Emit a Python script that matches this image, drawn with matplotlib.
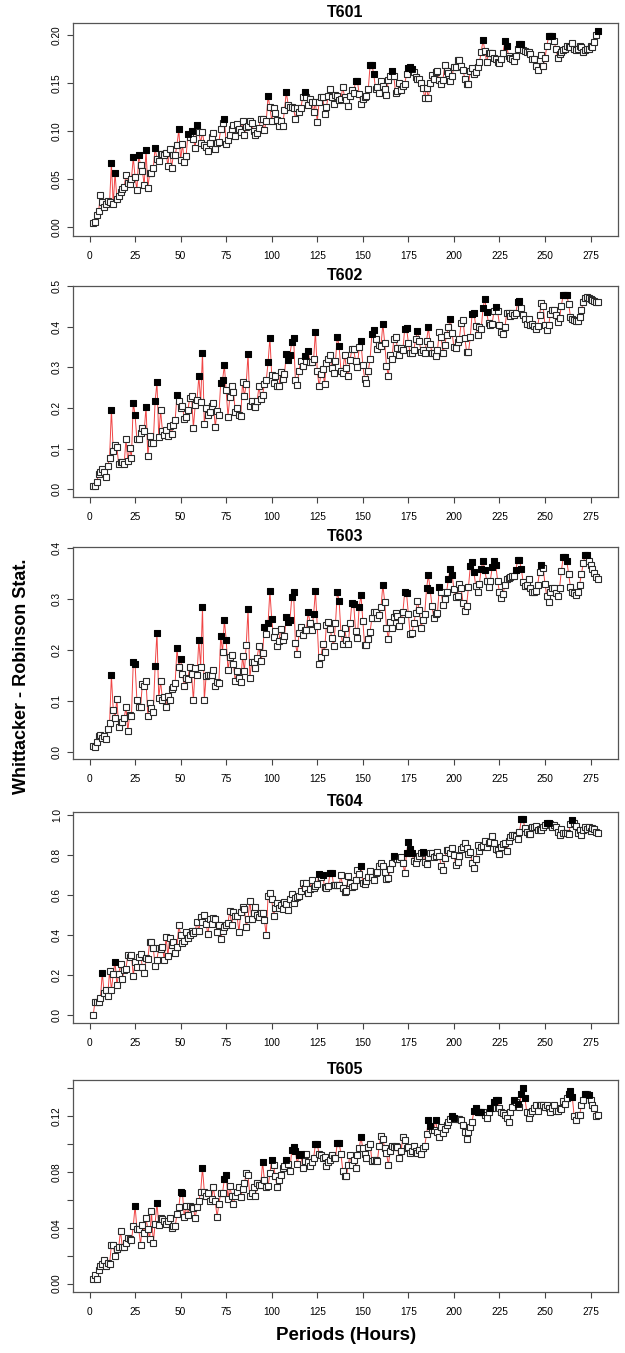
#!/usr/bin/env python

'''
plot.py: Whittacker - Robinson periodogram for stations T601 - T605
'''

import numpy as np
import matplotlib
matplotlib.use('Agg')
import matplotlib.pyplot as plt

# periods in hours, one value per integer period
periods = np.arange(2, 280)

t601 = [0.005, 0.006, 0.013, 0.017, 0.034, 0.026, 0.021, 0.024, 0.027, 0.026,
        0.067, 0.024, 0.057, 0.030, 0.033, 0.037, 0.040, 0.042, 0.055, 0.046,
        0.045, 0.050, 0.073, 0.052, 0.039, 0.075, 0.065, 0.059, 0.044, 0.081,
        0.041, 0.057, 0.057, 0.062, 0.083, 0.071, 0.069, 0.076, 0.076, 0.075,
        0.078, 0.064, 0.082, 0.062, 0.075, 0.075, 0.086, 0.102, 0.070, 0.087,
        0.068, 0.074, 0.097, 0.094, 0.100, 0.092, 0.083, 0.107, 0.099, 0.088,
        0.099, 0.086, 0.084, 0.080, 0.088, 0.094, 0.098, 0.082, 0.088, 0.089,
        0.102, 0.109, 0.113, 0.087, 0.091, 0.096, 0.103, 0.107, 0.095, 0.108,
        0.102, 0.099, 0.111, 0.096, 0.105, 0.106, 0.111, 0.109, 0.100, 0.096,
        0.098, 0.104, 0.113, 0.113, 0.101, 0.111, 0.137, 0.125, 0.111, 0.124,
        0.119, 0.112, 0.106, 0.111, 0.106, 0.122, 0.141, 0.128, 0.125, 0.125,
        0.124, 0.113, 0.124, 0.120, 0.124, 0.136, 0.141, 0.136, 0.128, 0.134,
        0.131, 0.120, 0.131, 0.110, 0.131, 0.136, 0.136, 0.118, 0.125, 0.137,
        0.144, 0.136, 0.129, 0.138, 0.137, 0.133, 0.134, 0.146, 0.136, 0.133,
        0.127, 0.137, 0.143, 0.140, 0.153, 0.153, 0.139, 0.129, 0.134, 0.136,
        0.137, 0.144, 0.169, 0.169, 0.160, 0.144, 0.146, 0.140, 0.153, 0.147,
        0.144, 0.138, 0.154, 0.158, 0.163, 0.158, 0.140, 0.142, 0.150, 0.143,
        0.147, 0.149, 0.160, 0.166, 0.167, 0.165, 0.162, 0.157, 0.155, 0.155,
        0.150, 0.145, 0.135, 0.145, 0.135, 0.150, 0.159, 0.155, 0.162, 0.163,
        0.154, 0.149, 0.154, 0.169, 0.163, 0.161, 0.153, 0.158, 0.167, 0.167,
        0.174, 0.174, 0.168, 0.164, 0.155, 0.149, 0.149, 0.163, 0.166, 0.160,
        0.162, 0.167, 0.172, 0.183, 0.195, 0.184, 0.172, 0.182, 0.182, 0.182,
        0.177, 0.175, 0.172, 0.171, 0.175, 0.182, 0.194, 0.189, 0.179, 0.177,
        0.175, 0.173, 0.179, 0.186, 0.191, 0.191, 0.185, 0.184, 0.183, 0.183,
        0.181, 0.175, 0.175, 0.168, 0.164, 0.174, 0.180, 0.168, 0.176, 0.189,
        0.199, 0.199, 0.199, 0.194, 0.186, 0.177, 0.181, 0.183, 0.185, 0.186,
        0.189, 0.188, 0.188, 0.192, 0.186, 0.185, 0.186, 0.189, 0.188, 0.183,
        0.185, 0.186, 0.186, 0.189, 0.188, 0.193, 0.201, 0.205]
t601_peaks = [12, 14, 24, 27, 31, 36, 49, 54, 56, 59, 74, 98, 108, 118, 146, 147,
              154, 155, 156, 166, 175, 176, 177, 216, 228, 229, 236, 237, 252,
              253, 254, 279]

t602 = [0.008, 0.008, 0.019, 0.037, 0.042, 0.051, 0.043, 0.029, 0.057, 0.078,
        0.196, 0.095, 0.109, 0.104, 0.061, 0.068, 0.066, 0.062, 0.123, 0.069,
        0.101, 0.078, 0.213, 0.182, 0.123, 0.123, 0.139, 0.150, 0.143, 0.203,
        0.081, 0.130, 0.113, 0.115, 0.217, 0.263, 0.128, 0.194, 0.144, 0.133,
        0.145, 0.131, 0.156, 0.137, 0.158, 0.170, 0.233, 0.216, 0.200, 0.204,
        0.174, 0.178, 0.195, 0.225, 0.229, 0.151, 0.207, 0.219, 0.278, 0.215,
        0.336, 0.161, 0.199, 0.182, 0.191, 0.204, 0.213, 0.152, 0.193, 0.182,
        0.262, 0.268, 0.305, 0.243, 0.179, 0.227, 0.255, 0.240, 0.190, 0.201,
        0.182, 0.181, 0.264, 0.229, 0.259, 0.333, 0.206, 0.217, 0.204, 0.203,
        0.217, 0.253, 0.223, 0.233, 0.258, 0.268, 0.312, 0.373, 0.280, 0.261,
        0.278, 0.254, 0.255, 0.289, 0.271, 0.284, 0.332, 0.319, 0.330, 0.363,
        0.373, 0.268, 0.257, 0.292, 0.315, 0.303, 0.327, 0.316, 0.339, 0.313,
        0.314, 0.320, 0.388, 0.292, 0.253, 0.283, 0.296, 0.258, 0.310, 0.321,
        0.330, 0.298, 0.285, 0.316, 0.375, 0.352, 0.292, 0.287, 0.331, 0.298,
        0.278, 0.319, 0.344, 0.344, 0.315, 0.300, 0.349, 0.364, 0.305, 0.272,
        0.262, 0.290, 0.321, 0.383, 0.391, 0.370, 0.346, 0.355, 0.353, 0.407,
        0.361, 0.303, 0.279, 0.331, 0.321, 0.369, 0.375, 0.348, 0.330, 0.348,
        0.342, 0.395, 0.397, 0.361, 0.334, 0.334, 0.343, 0.369, 0.389, 0.364,
        0.338, 0.342, 0.335, 0.365, 0.398, 0.357, 0.336, 0.334, 0.329, 0.343,
        0.387, 0.374, 0.334, 0.356, 0.379, 0.398, 0.419, 0.384, 0.350, 0.348,
        0.362, 0.370, 0.410, 0.417, 0.372, 0.338, 0.338, 0.374, 0.432, 0.434,
        0.402, 0.379, 0.398, 0.395, 0.446, 0.469, 0.435, 0.410, 0.405, 0.407,
        0.438, 0.449, 0.438, 0.405, 0.387, 0.381, 0.398, 0.433, 0.434, 0.426,
        0.433, 0.428, 0.434, 0.460, 0.464, 0.447, 0.429, 0.418, 0.407, 0.419,
        0.405, 0.407, 0.401, 0.395, 0.402, 0.429, 0.458, 0.451, 0.403, 0.391,
        0.403, 0.432, 0.441, 0.442, 0.428, 0.411, 0.421, 0.452, 0.478, 0.479,
        0.477, 0.456, 0.424, 0.419, 0.417, 0.415, 0.413, 0.424, 0.442, 0.460,
        0.471, 0.472, 0.471, 0.469, 0.465, 0.462, 0.460, 0.460]
t602_peaks = [12, 24, 25, 31, 36, 37, 48, 60, 62, 72, 73, 74, 87, 98, 99, 108,
              109, 110, 111, 112, 118, 120, 124, 136, 137, 149, 155, 156, 161,
              173, 174, 180, 186, 198, 210, 211, 216, 217, 218, 223, 235, 236,
              260, 261, 262]

t603 = [0.012, 0.010, 0.020, 0.032, 0.033, 0.028, 0.032, 0.025, 0.045, 0.056,
        0.150, 0.083, 0.066, 0.104, 0.048, 0.058, 0.058, 0.066, 0.088, 0.041,
        0.072, 0.070, 0.176, 0.172, 0.101, 0.088, 0.088, 0.133, 0.130, 0.139,
        0.071, 0.095, 0.086, 0.078, 0.168, 0.234, 0.105, 0.139, 0.102, 0.107,
        0.088, 0.110, 0.102, 0.123, 0.128, 0.136, 0.203, 0.166, 0.183, 0.153,
        0.130, 0.145, 0.143, 0.166, 0.153, 0.101, 0.165, 0.151, 0.220, 0.166,
        0.284, 0.101, 0.149, 0.151, 0.151, 0.150, 0.160, 0.130, 0.138, 0.136,
        0.228, 0.196, 0.259, 0.220, 0.161, 0.186, 0.191, 0.172, 0.139, 0.159,
        0.145, 0.138, 0.188, 0.158, 0.209, 0.280, 0.145, 0.176, 0.176, 0.164,
        0.185, 0.208, 0.178, 0.194, 0.245, 0.232, 0.252, 0.316, 0.260, 0.226,
        0.238, 0.207, 0.218, 0.242, 0.220, 0.227, 0.265, 0.254, 0.258, 0.303,
        0.313, 0.213, 0.193, 0.234, 0.245, 0.230, 0.240, 0.240, 0.274, 0.253,
        0.239, 0.270, 0.316, 0.247, 0.173, 0.186, 0.211, 0.196, 0.249, 0.254,
        0.241, 0.224, 0.207, 0.252, 0.313, 0.297, 0.233, 0.211, 0.243, 0.220,
        0.211, 0.252, 0.293, 0.290, 0.238, 0.224, 0.285, 0.307, 0.257, 0.209,
        0.209, 0.222, 0.236, 0.263, 0.275, 0.275, 0.263, 0.268, 0.284, 0.328,
        0.295, 0.244, 0.222, 0.254, 0.243, 0.265, 0.273, 0.266, 0.247, 0.258,
        0.274, 0.314, 0.311, 0.270, 0.231, 0.233, 0.253, 0.272, 0.297, 0.278,
        0.244, 0.259, 0.271, 0.321, 0.347, 0.317, 0.286, 0.263, 0.270, 0.273,
        0.323, 0.313, 0.289, 0.300, 0.313, 0.340, 0.358, 0.347, 0.320, 0.303,
        0.306, 0.329, 0.321, 0.292, 0.276, 0.287, 0.324, 0.364, 0.372, 0.352,
        0.326, 0.314, 0.330, 0.359, 0.374, 0.356, 0.336, 0.323, 0.336, 0.362,
        0.375, 0.366, 0.336, 0.313, 0.301, 0.309, 0.328, 0.339, 0.341, 0.343,
        0.346, 0.345, 0.357, 0.376, 0.376, 0.359, 0.334, 0.326, 0.328, 0.339,
        0.322, 0.314, 0.314, 0.316, 0.328, 0.353, 0.367, 0.361, 0.330, 0.305,
        0.295, 0.313, 0.321, 0.321, 0.311, 0.306, 0.322, 0.355, 0.382, 0.382,
        0.374, 0.349, 0.323, 0.314, 0.311, 0.308, 0.313, 0.328, 0.349, 0.370,
        0.386, 0.387, 0.375, 0.366, 0.359, 0.351, 0.344, 0.339]
t603_peaks = [12, 24, 25, 36, 37, 48, 50, 60, 62, 72, 74, 75, 87, 96, 98, 99,
              100, 108, 109, 110, 111, 112, 120, 123, 124, 136, 137, 144, 145,
              148, 149, 161, 173, 174, 185, 186, 187, 192, 197, 198, 199, 209,
              210, 211, 215, 216, 217, 221, 222, 223, 234, 235, 236, 237, 248,
              260, 261, 262, 272, 273]

t604 = [0.000, 0.068, 0.068, 0.068, 0.087, 0.213, 0.110, 0.125, 0.098, 0.223,
        0.125, 0.208, 0.268, 0.152, 0.207, 0.255, 0.180, 0.228, 0.232, 0.300,
        0.293, 0.300, 0.197, 0.268, 0.240, 0.293, 0.308, 0.240, 0.210, 0.285,
        0.283, 0.365, 0.367, 0.335, 0.247, 0.278, 0.338, 0.333, 0.343, 0.277,
        0.393, 0.297, 0.388, 0.350, 0.367, 0.310, 0.342, 0.450, 0.402, 0.362,
        0.370, 0.418, 0.388, 0.402, 0.423, 0.410, 0.422, 0.468, 0.422, 0.492,
        0.465, 0.502, 0.455, 0.405, 0.483, 0.457, 0.487, 0.483, 0.417, 0.450,
        0.382, 0.420, 0.443, 0.450, 0.463, 0.523, 0.452, 0.515, 0.498, 0.495,
        0.417, 0.517, 0.540, 0.532, 0.440, 0.482, 0.572, 0.482, 0.510, 0.543,
        0.502, 0.493, 0.510, 0.510, 0.475, 0.400, 0.597, 0.612, 0.580, 0.498,
        0.535, 0.563, 0.537, 0.552, 0.532, 0.565, 0.555, 0.525, 0.583, 0.608,
        0.562, 0.585, 0.593, 0.597, 0.623, 0.660, 0.635, 0.663, 0.610, 0.632,
        0.678, 0.635, 0.647, 0.657, 0.707, 0.690, 0.703, 0.640, 0.635, 0.645,
        0.712, 0.712, 0.650, 0.652, 0.652, 0.652, 0.700, 0.635, 0.618, 0.623,
        0.697, 0.660, 0.640, 0.647, 0.677, 0.727, 0.707, 0.747, 0.663, 0.657,
        0.673, 0.693, 0.722, 0.693, 0.677, 0.713, 0.718, 0.747, 0.763, 0.748,
        0.718, 0.682, 0.685, 0.732, 0.760, 0.797, 0.785, 0.780, 0.780, 0.790,
        0.760, 0.713, 0.810, 0.868, 0.832, 0.812, 0.773, 0.763, 0.785, 0.797,
        0.813, 0.818, 0.768, 0.757, 0.790, 0.813, 0.810, 0.790, 0.797, 0.815,
        0.797, 0.747, 0.727, 0.788, 0.827, 0.827, 0.810, 0.838, 0.802, 0.752,
        0.768, 0.797, 0.832, 0.840, 0.863, 0.838, 0.805, 0.815, 0.763, 0.735,
        0.780, 0.852, 0.823, 0.840, 0.848, 0.873, 0.843, 0.863, 0.868, 0.897,
        0.863, 0.830, 0.827, 0.807, 0.840, 0.855, 0.860, 0.823, 0.873, 0.890,
        0.902, 0.902, 0.897, 0.880, 0.918, 0.980, 0.980, 0.935, 0.918, 0.907,
        0.907, 0.943, 0.940, 0.947, 0.927, 0.933, 0.927, 0.943, 0.952, 0.960,
        0.960, 0.957, 0.943, 0.952, 0.940, 0.918, 0.902, 0.930, 0.910, 0.913,
        0.910, 0.905, 0.957, 0.977, 0.963, 0.947, 0.910, 0.927, 0.902, 0.927,
        0.940, 0.930, 0.940, 0.923, 0.935, 0.930, 0.918, 0.913]
t604_peaks = [7, 14, 126, 128, 132, 133, 149, 167, 174, 175, 176, 177, 183,
              237, 238, 251, 252, 265]

t605 = [0.003, 0.006, 0.003, 0.010, 0.013, 0.014, 0.017, 0.013, 0.015, 0.014,
        0.028, 0.028, 0.020, 0.025, 0.026, 0.038, 0.026, 0.026, 0.029, 0.033,
        0.032, 0.031, 0.041, 0.056, 0.039, 0.039, 0.028, 0.042, 0.036, 0.047,
        0.039, 0.032, 0.052, 0.029, 0.043, 0.058, 0.042, 0.047, 0.046, 0.045,
        0.043, 0.045, 0.047, 0.040, 0.041, 0.041, 0.050, 0.055, 0.066, 0.065,
        0.048, 0.056, 0.049, 0.056, 0.055, 0.054, 0.047, 0.055, 0.059, 0.066,
        0.083, 0.066, 0.063, 0.065, 0.059, 0.061, 0.069, 0.059, 0.048, 0.057,
        0.065, 0.065, 0.075, 0.078, 0.061, 0.070, 0.063, 0.057, 0.063, 0.066,
        0.069, 0.062, 0.068, 0.072, 0.079, 0.078, 0.063, 0.065, 0.069, 0.063,
        0.072, 0.071, 0.071, 0.087, 0.074, 0.069, 0.070, 0.079, 0.089, 0.085,
        0.077, 0.069, 0.074, 0.078, 0.083, 0.084, 0.089, 0.086, 0.081, 0.096,
        0.098, 0.095, 0.086, 0.092, 0.093, 0.083, 0.088, 0.093, 0.087, 0.084,
        0.087, 0.090, 0.100, 0.100, 0.093, 0.092, 0.090, 0.091, 0.084, 0.087,
        0.089, 0.092, 0.090, 0.090, 0.101, 0.101, 0.093, 0.081, 0.077, 0.077,
        0.085, 0.092, 0.085, 0.089, 0.083, 0.092, 0.097, 0.105, 0.097, 0.093,
        0.090, 0.098, 0.100, 0.088, 0.089, 0.089, 0.088, 0.099, 0.106, 0.104,
        0.097, 0.094, 0.085, 0.095, 0.099, 0.098, 0.099, 0.098, 0.090, 0.095,
        0.105, 0.103, 0.097, 0.098, 0.094, 0.095, 0.099, 0.095, 0.094, 0.096,
        0.093, 0.097, 0.099, 0.107, 0.117, 0.113, 0.110, 0.110, 0.117, 0.109,
        0.105, 0.112, 0.108, 0.111, 0.114, 0.116, 0.118, 0.120, 0.119, 0.118,
        0.118, 0.118, 0.117, 0.114, 0.109, 0.104, 0.109, 0.112, 0.116, 0.124,
        0.126, 0.123, 0.123, 0.123, 0.123, 0.121, 0.119, 0.123, 0.126, 0.126,
        0.130, 0.132, 0.132, 0.126, 0.123, 0.122, 0.121, 0.119, 0.116, 0.123,
        0.127, 0.132, 0.130, 0.129, 0.127, 0.136, 0.140, 0.133, 0.123, 0.119,
        0.122, 0.124, 0.126, 0.128, 0.124, 0.128, 0.128, 0.128, 0.127, 0.128,
        0.126, 0.123, 0.126, 0.128, 0.124, 0.124, 0.126, 0.125, 0.131, 0.129,
        0.133, 0.136, 0.138, 0.134, 0.120, 0.117, 0.121, 0.121, 0.128, 0.132,
        0.136, 0.136, 0.135, 0.132, 0.128, 0.126, 0.120, 0.121]
t605_peaks = [25, 37, 50, 51, 62, 74, 75, 95, 100, 108, 111, 112, 113, 115, 116,
              124, 125, 136, 137, 149, 186, 187, 190, 199, 200, 211, 212, 213,
              214, 215, 220, 222, 223, 224, 233, 235, 237, 238, 239, 263, 264,
              265, 272, 274]

stations = ["T601", "T602", "T603", "T604", "T605"]
xticks = np.arange(0, 276, 25)


def draw_panel(ax, title, values, peaks, ylims, yticks, ylabels):

    values = np.asarray(values)
    x = periods[:len(values)]

    # red line under the points, open squares, then the significant ones in black
    ax.plot(x, values, '-', color='#f04545', lw=0.7, zorder=1)
    ax.plot(x, values, 's', ms=3.7, mfc='white', mec='#2a2a2a', mew=0.8, zorder=2)
    sig = np.isin(x, peaks)
    ax.plot(x[sig], values[sig], 's', ms=3.7, mfc='black', mec='black', mew=0.6, zorder=3)

    ax.set_xlim(-9.08, 290.08)
    ax.set_ylim(ylims)
    ax.set_xticks(xticks)
    ax.set_yticks(yticks)
    ax.set_yticklabels(ylabels, rotation=90, va='center')
    ax.tick_params(direction='out', length=4, width=0.8, color='#444444',
                   labelsize=7.3, pad=6.5)
    ax.tick_params(axis='y', pad=4)
    for s in ax.spines.values():
        s.set_color('#555555')
        s.set_linewidth(0.9)

    ax.set_title(title, fontsize=11.5, fontweight='bold', pad=4)


plt.rcParams['font.family'] = ['Liberation Sans', 'DejaVu Sans']

W, H = 625, 1353
fig = plt.figure(figsize=(W / 100, H / 100), dpi=100)

# pixel boxes (top, bottom) of each panel
boxes = [(23, 236), (286, 497), (547, 759), (812, 1023), (1080, 1292)]
left, right = 73, 618

ylim_list = [(-0.009, 0.213), (-0.019, 0.499), (-0.014, 0.402), (-0.039, 1.017), (-0.006, 0.146)]
ytick_list = [np.arange(0, 0.201, 0.05), np.arange(0, 0.51, 0.1), np.arange(0, 0.41, 0.1),
              np.arange(0, 1.01, 0.2), np.arange(0, 0.141, 0.02)]
ylabel_list = [["0.00", "0.05", "0.10", "0.15", "0.20"],
               ["0.0", "0.1", "0.2", "0.3", "0.4", "0.5"],
               ["0.0", "0.1", "0.2", "0.3", "0.4"],
               ["0.0", "0.2", "0.4", "0.6", "0.8", "1.0"],
               ["0.00", "", "0.04", "", "0.08", "", "0.12", ""]]

series = [t601, t602, t603, t604, t605]
peak_sets = [t601_peaks, t602_peaks, t603_peaks, t604_peaks, t605_peaks]

for i, (top, bottom) in enumerate(boxes):
    ax = fig.add_axes([left / W, 1 - bottom / H, (right - left) / W, (bottom - top) / H])
    draw_panel(ax, stations[i], series[i], peak_sets[i],
               ylim_list[i], ytick_list[i], ylabel_list[i])

fig.text(22 / W, 1 - 676 / H, "Whittacker - Robinson Stat.", rotation=90,
         ha='center', va='center', fontsize=13, fontweight='bold')
fig.text(346 / W, 1 - 1336 / H, "Periods (Hours)", ha='center', va='center',
         fontsize=13.5, fontweight='bold')

fig.savefig("out.png", dpi=100)
plt.close()
